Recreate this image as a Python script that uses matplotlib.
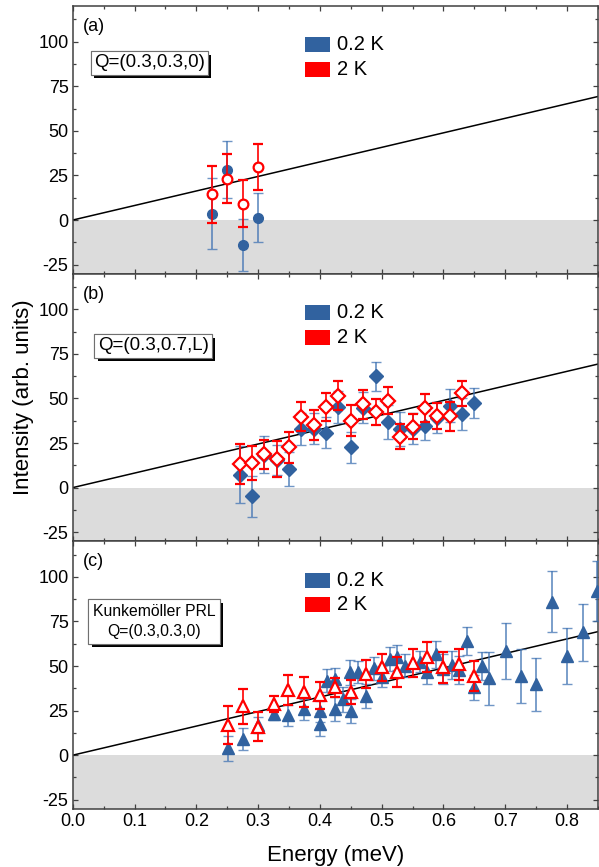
import matplotlib
matplotlib.use('Agg')
import matplotlib.pyplot as plt
import numpy as np
from matplotlib.patches import Rectangle
import matplotlib.patheffects as pe
from matplotlib.ticker import MultipleLocator, FixedLocator

plt.rcParams['font.family'] = ['Liberation Sans', 'DejaVu Sans']
plt.rcParams['axes.unicode_minus'] = False

# ---------------- data ----------------
# panel (a)  Q=(0.3,0.3,0)
a_E_low = [0.225, 0.25, 0.275, 0.30]
a_I_low = [3.5, 28.3, -14.1, 1.3]
a_err_low = [20, 16, 14.5, 13.8]
a_E_high = [0.225, 0.25, 0.275, 0.30]
a_I_high = [14.4, 23.2, 9.2, 29.6]
a_err_high = [16, 13.7, 13, 13]

# panel (b)  Q=(0.3,0.7,L)
b_E_low = [0.27, 0.29, 0.31, 0.33, 0.35, 0.37, 0.39, 0.41, 0.43, 0.45,
           0.47, 0.49, 0.51, 0.53, 0.55, 0.57, 0.59, 0.61, 0.63, 0.65]
b_I_low = [7.3, -4.9, 18.5, 15.3, 10.3, 33.1, 32.9, 30.7, 45.3, 22.5,
           44.9, 62.5, 36.7, 32.8, 33.1, 34.8, 39.3, 45.9, 41.4, 47.4]
b_err_low = [16, 11.5, 10.4, 8.5, 9.5, 9, 8.7, 8.7, 8.8, 8.8,
             8.5, 8.2, 9.4, 9.4, 8.7, 8.2, 8.6, 9.2, 9, 8.5]
b_E_high = [0.27, 0.29, 0.31, 0.33, 0.35, 0.37, 0.39, 0.41, 0.43, 0.45,
            0.47, 0.49, 0.51, 0.53, 0.55, 0.57, 0.59, 0.61, 0.63]
b_I_high = [13.3, 14, 18.7, 16.1, 22.5, 39.7, 35, 45.3, 51.5, 37.6,
            46.6, 42.5, 48.7, 28.4, 34, 44.7, 40.2, 40, 52.8]
b_err_high = [11.3, 9.5, 8, 10, 8.5, 8.2, 8.3, 8, 8.1, 8.5,
              8.3, 7.4, 7.7, 7, 7, 7.7, 7.5, 8, 7]

# panel (c)  Kunkemoller PRL, Q=(0.3,0.3,0)
c_E_low = [0.251, 0.275, 0.30, 0.325, 0.349, 0.375, 0.40, 0.40, 0.411, 0.425,
           0.425, 0.437, 0.449, 0.45, 0.462, 0.475, 0.487, 0.50, 0.513, 0.525,
           0.538, 0.562, 0.574, 0.588, 0.60, 0.614, 0.625, 0.638, 0.65, 0.663,
           0.674, 0.701, 0.726, 0.75, 0.775, 0.80, 0.826, 0.848]
c_I_low = [3.8, 9, 16.8, 23, 22.4, 25.8, 17.4, 24.5, 41.7, 42.5,
           25.8, 31.4, 46.4, 24.9, 46.7, 33.3, 48.6, 44.1, 53.8, 54.8,
           50.1, 52.5, 46.9, 56.6, 48.2, 50.5, 47.7, 64.1, 38, 50.1,
           43, 58.5, 44.5, 39.8, 86, 55.7, 68.8, 92.1]
c_err_low = [7.2, 6.3, 4.5, 3, 6, 5.8, 6.5, 6, 6.5, 6.5,
             6.8, 7, 7, 6.7, 6.2, 6.6, 6.5, 6.1, 6.8, 6.8,
             6.5, 6, 7, 7.5, 8.4, 7.7, 7.7, 8, 6.8, 7.8,
             15, 15.7, 15.2, 14.8, 17, 15.6, 16, 17]
c_E_high = [0.251, 0.275, 0.30, 0.325, 0.349, 0.375, 0.40, 0.425, 0.45, 0.475,
            0.50, 0.525, 0.55, 0.574, 0.60, 0.625, 0.65]
c_I_high = [17, 27.5, 16, 28.7, 36.6, 35.2, 33.6, 38, 35.2, 45.4,
            49.2, 46.4, 51.6, 54.8, 49.2, 51, 44.5]
c_err_high = [10.7, 9.8, 8, 4.7, 8.2, 8.4, 7.7, 5.2, 6.7, 7.9,
              7.7, 8.4, 8, 8.4, 8.7, 8.8, 8.4]

fit_slope = 81.5   # intensity per meV, line through origin
legend_labels = ['0.2 K', '2 K']
panel_tags = ['(a)', '(b)', '(c)']
q_labels = ['Q=(0.3,0.3,0)', 'Q=(0.3,0.7,L)', 'Kunkemöller PRL\nQ=(0.3,0.3,0)']
x_ticks = [0.0, 0.1, 0.2, 0.3, 0.4, 0.5, 0.6, 0.7, 0.8]
y_ticks = [-25, 0, 25, 50, 75, 100]

# ---------------- style ----------------
BLUE = '#31629f'
BLUE_ERR = (0.25, 0.45, 0.70, 0.75)
RED = '#ff0000'
GRAY = '#dcdcdc'
SPINE = '#404040'

fig = plt.figure(figsize=(5.99, 8.67), dpi=100)
left, width = 72.7 / 599, (598 - 72.7) / 599
h = (808.7 - 6) / 3 / 867
bottoms = [0.06724 + 2 * h, 0.06724 + h, 0.06724]

panels = [
    (a_E_low, a_I_low, a_err_low, a_E_high, a_I_high, a_err_high, 'o', 7.0),
    (b_E_low, b_I_low, b_err_low, b_E_high, b_I_high, b_err_high, 'D', 7.0),
    (c_E_low, c_I_low, c_err_low, c_E_high, c_I_high, c_err_high, '^', 8.3),
]
box_pos = [(0.146, 0.787), (0.153, 0.730), (0.155, 0.700)]
box_font = [13.5, 13.5, 11.3]
box_pad = [0.17, 0.17, 0.28]
box_ls = [1.15, 1.15, 1.45]

for i, (El, Il, el, Eh, Ih, eh, mk, ms) in enumerate(panels):
    ax = fig.add_axes([left, bottoms[i], width, h])
    ax.set_xlim(0, 0.85)
    ax.set_ylim(-30, 120)
    ax.axhspan(-30, 0, color=GRAY, lw=0, zorder=0)
    xx = np.array([0, 0.85])
    ax.plot(xx, fit_slope * xx, color='black', lw=1.1, zorder=2)

    ax.errorbar(El, Il, yerr=el, fmt=mk, ms=ms, mfc=BLUE, mec=BLUE, mew=1.0,
                ecolor=BLUE_ERR, elinewidth=1.3, capsize=3.8, capthick=1.3, zorder=3)
    ax.errorbar(Eh, Ih, yerr=eh, fmt=mk, ms=ms, mfc='white', mec=RED, mew=1.6,
                ecolor=RED, elinewidth=1.2, capsize=3.8, capthick=1.2, zorder=4)

    ax.xaxis.set_major_locator(FixedLocator(x_ticks))
    ax.xaxis.set_minor_locator(MultipleLocator(0.05))
    ax.yaxis.set_major_locator(FixedLocator(y_ticks))
    ax.yaxis.set_minor_locator(MultipleLocator(12.5))
    ax.tick_params(which='both', direction='in', top=True, right=True,
                   labelsize=13, colors=SPINE, labelcolor='black', width=0.9)
    ax.tick_params(which='major', length=3.5, pad=3)
    ax.tick_params(which='minor', length=2)
    for sp in ax.spines.values():
        sp.set_color(SPINE)
        sp.set_linewidth(1.1)
    if i < 2:
        ax.set_xticklabels([])
    else:
        ax.set_xticklabels(['%.1f' % v for v in x_ticks])
        ax.set_xlabel('Energy (meV)', fontsize=16, labelpad=11)
    ax.set_yticklabels(['%d' % v for v in y_ticks])

    ax.text(0.02, 0.923, panel_tags[i], transform=ax.transAxes, fontsize=13,
            ha='left', va='center')

    # legend
    for j, (lab, col) in enumerate(zip(legend_labels, [BLUE, RED])):
        yc = 1 - (39.0 + 24.8 * j) / 268.0
        ax.add_patch(Rectangle((0.442, yc - 0.028), 0.0476, 0.056, transform=ax.transAxes,
                               facecolor=col, edgecolor='none', zorder=6))
        ax.text(0.503, yc, lab, transform=ax.transAxes, fontsize=14.5,
                ha='left', va='center', zorder=6)

    bx, by = box_pos[i]
    t = ax.text(bx, by, q_labels[i], transform=ax.transAxes, fontsize=box_font[i],
                ha='center', va='center', multialignment='center', zorder=7,
                linespacing=box_ls[i],
                bbox=dict(boxstyle='square,pad=%.2f' % box_pad[i], fc='white',
                          ec='#707070', lw=0.8))
    t.get_bbox_patch().set_path_effects([
        pe.withSimplePatchShadow(offset=(2.5, -2.5), shadow_rgbFace='black', alpha=1.0),
        pe.Normal()])

fig.text(0.039, 0.5415, 'Intensity (arb. units)', rotation=90, fontsize=16,
         ha='center', va='center')

fig.savefig('out.png', dpi=100)
